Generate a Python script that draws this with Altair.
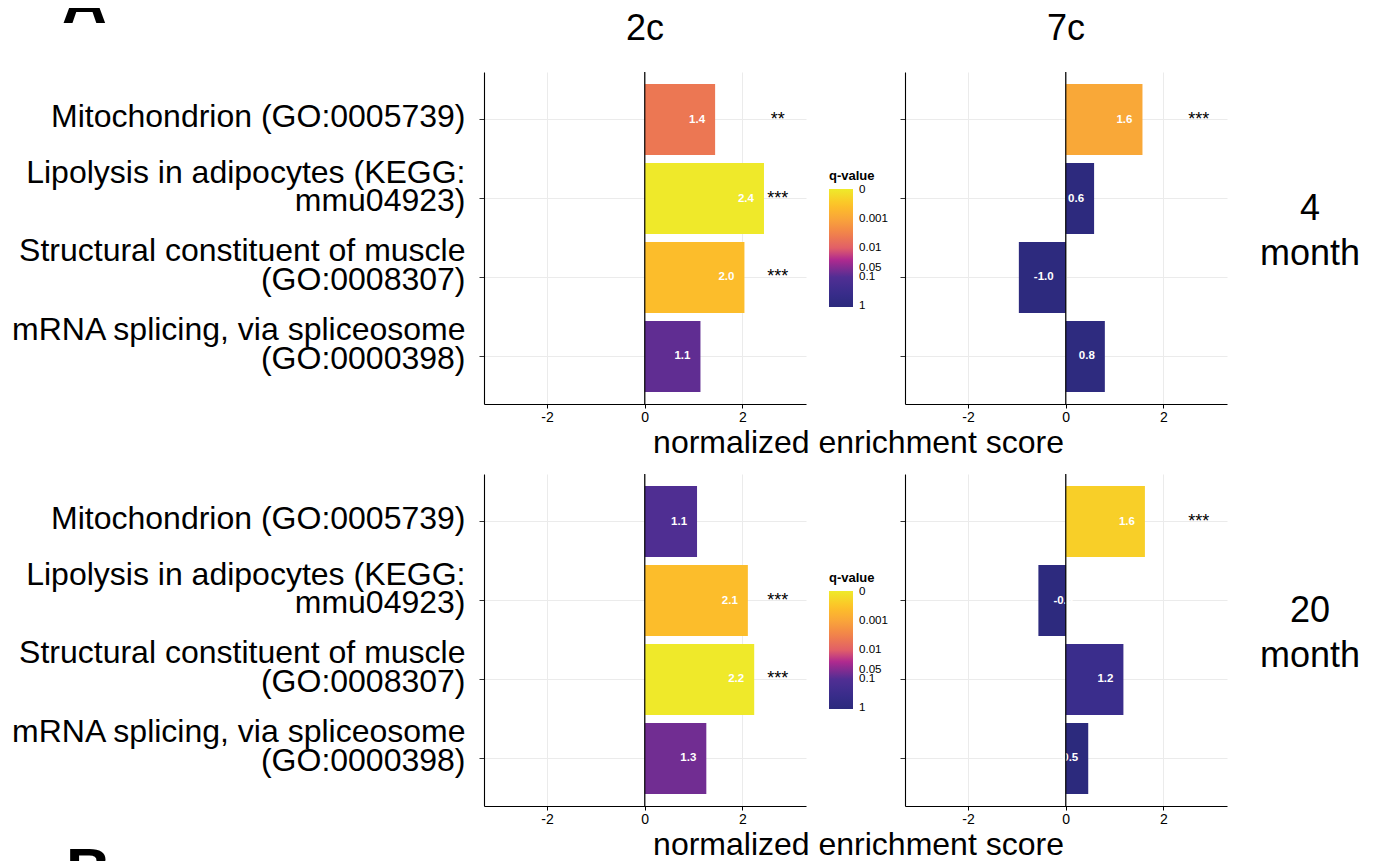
import altair as alt
import numpy as np
import pandas as pd

# ---------------- data ----------------
terms = [
    "Mitochondrion (GO:0005739)",
    "Lipolysis in adipocytes (KEGG:\nmmu04923)",
    "Structural constituent of muscle\n(GO:0008307)",
    "mRNA splicing, via spliceosome\n(GO:0000398)",
]

nes_2c_4m = [1.44, 2.44, 2.04, 1.14]
q_2c_4m = [0.0045, 0.0001, 0.0004, 0.08]
stars_2c_4m = ["**", "***", "***", ""]

nes_7c_4m = [1.57, 0.58, -0.96, 0.80]
q_7c_4m = [0.0009, 0.9, 0.88, 0.85]
stars_7c_4m = ["***", "", "", ""]

nes_2c_20m = [1.07, 2.11, 2.24, 1.26]
q_2c_20m = [0.11, 0.0004, 0.0001, 0.063]
stars_2c_20m = ["", "***", "***", ""]

nes_7c_20m = [1.62, -0.56, 1.18, 0.46]
q_7c_20m = [0.00022, 0.9, 0.32, 0.95]
stars_7c_20m = ["***", "", "", ""]

col_titles = ["2c", "7c"]
row_titles = ["4\nmonth", "20\nmonth"]
panel_letters = ["A", "B"]
x_title = "normalized enrichment score"
legend_title = "q-value"
x_ticks = [-2, 0, 2]
zero_line = [0]
star_x = 2.72
# -log10(q) positions of the legend ticks for q = 1, 0.1, 0.05, 0.01, 0.001, 0
legend_values = [0, 1, 1.30103, 2, 3, 4]

# ---------------- style ----------------
FONT = "Liberation Sans"
W, H = 322, 332
XDOM = [-3.29, 3.30]
GRID = "#EBEBEB"
color_stops = [-0.02, 0.5, 1.0, 1.6, 2.0, 2.5, 3.0, 3.5, 4.02]
color_range = ["#2B2A7C", "#3A2D8C", "#512E93", "#B02A8F", "#E15F68",
               "#F1824A", "#F9A53A", "#FDC327", "#EEEA2A"]


def panel(nes, q, stars, left):
    df = pd.DataFrame({"term": terms, "NES": nes, "q": q, "stars": stars})
    df["score"] = -np.log10(np.maximum(df["q"], 1e-4))
    base = alt.Chart(df)

    yaxis = alt.Axis(
        title=None, labels=left, labelExpr="split(datum.label, '\\n')",
        labelFontSize=32, labelFont=FONT, labelColor="black", labelLimit=700,
        labelPadding=14, labelLineHeight=28.8,
        labelOffset={"condition": {"test": "indexof(datum.label, '\\n') >= 0", "value": -26},
                     "value": -3},
        ticks=True, tickSize=5,
        tickColor="#333333", domain=True, domainColor="black", domainWidth=1.1,
        grid=True, gridColor=GRID, gridWidth=1, bandPosition=0.5,
    )
    common_x = dict(
        values=x_ticks, labelExpr="'' + datum.value", labelFontSize=14,
        labelColor="black", labelFont=FONT, labelPadding=2, tickSize=4,
        tickColor="black", domainColor="black", domainWidth=1.1,
        grid=True, gridColor=GRID, gridWidth=1,
    )
    if left:
        xaxis = alt.Axis(
            title=x_title, titleFontSize=32, titleFont=FONT, titleFontWeight="normal",
            titleColor="black", titleX=374, titleY=48, titleAlign="center",
            titleBaseline="alphabetic", **common_x,
        )
    else:
        xaxis = alt.Axis(title=None, **common_x)
    xs = alt.Scale(domain=XDOM, nice=False, zero=False)
    ys = alt.Scale(paddingInner=0.1, paddingOuter=0.152)
    yenc = alt.Y("term:N", sort=terms, scale=ys, axis=yaxis)
    xenc = alt.X("NES:Q", scale=xs, axis=xaxis)

    if left:
        legend = alt.Legend(
            title=legend_title, orient="none", legendX=345, legendY=98,
            direction="vertical", gradientLength=118, gradientThickness=24,
            values=legend_values,
            labelExpr="datum.value >= 4 ? '0' : format(pow(10, -datum.value), '.1~g')",
            labelOverlap=False, labelFontSize=11.6, labelColor="black", labelFont=FONT,
            labelBaseline="middle", labelOffset=6, titleFontSize=13, titleFontWeight="bold",
            titleColor="black", titleFont=FONT, titlePadding=6, padding=0,
            gradientStrokeWidth=0,
        )
    else:
        legend = None
    cenc = alt.Color(
        "score:Q",
        scale=alt.Scale(domain=color_stops, range=color_range, interpolate="rgb", clamp=True),
        legend=legend,
    )

    bars = base.mark_bar().encode(x=xenc, y=yenc, color=cenc)
    lab_expr = "replace(format(datum.NES, '.1f'), '\u2212', '-')"
    pos = base.transform_filter("datum.NES > 0").transform_calculate(lab=lab_expr).mark_text(
        align="right", baseline="middle", dx=-10, color="white", fontWeight="bold",
        fontSize=11.5, font=FONT,
    ).encode(x=xenc, y=yenc, text="lab:N")
    neg = base.transform_filter("datum.NES < 0").transform_calculate(lab=lab_expr).mark_text(
        align="left", baseline="middle", dx=15, color="white", fontWeight="bold",
        fontSize=11.5, font=FONT,
    ).encode(x=xenc, y=yenc, text="lab:N")
    st = base.mark_text(
        align="center", baseline="middle", color="black", fontSize=18, font=FONT,
    ).encode(x=alt.datum(star_x, scale=xs), y=yenc, text="stars:N")
    rule = alt.Chart(pd.DataFrame({"NES": zero_line})).mark_rule(
        color="black", strokeWidth=1.2
    ).encode(x=xenc)
    return alt.layer(bars, pos, neg, st, rule).properties(width=W, height=H)


def blank(w, h):
    return alt.Chart(pd.DataFrame({"t": [""]})).mark_text().encode(
        text="t:N").properties(width=w, height=h)


def text_cell(txt, **kw):
    return alt.Chart(pd.DataFrame({"t": [txt]})).mark_text(font=FONT, color="black", **kw)


hdrA = text_cell(panel_letters[0], fontSize=62, fontWeight="bold", align="left",
                 baseline="alphabetic", clip=True).encode(
    text="t:N", x=alt.value(54), y=alt.value(15)).properties(width=377, height=64)
hdr2c = text_cell(col_titles[0], fontSize=36, align="center",
                  baseline="alphabetic").encode(text="t:N", y=alt.value(32)).properties(width=322, height=64)
hdr7c = text_cell(col_titles[1], fontSize=36, align="center",
                  baseline="alphabetic").encode(text="t:N", y=alt.value(32)).properties(width=322, height=64)


def row_label(txt):
    return text_cell(txt, fontSize=36, align="center", baseline="middle",
                     lineBreak="\n", lineHeight=45, dy=-29).encode(
        text="t:N", x=alt.value(-16)).properties(width=1, height=H)


footB = text_cell(panel_letters[1], fontSize=62, fontWeight="bold", align="left",
                  baseline="alphabetic").encode(
    text="t:N", x=alt.value(58), y=alt.value(85)).properties(width=377, height=55)

cells = [
    hdrA, hdr2c, hdr7c, blank(1, 64),
    blank(1, 1), panel(nes_2c_4m, q_2c_4m, stars_2c_4m, True),
    panel(nes_7c_4m, q_7c_4m, stars_7c_4m, False), row_label(row_titles[0]),
    blank(1, 70), blank(1, 1), blank(1, 1), blank(1, 1),
    blank(1, 1), panel(nes_2c_20m, q_2c_20m, stars_2c_20m, True),
    panel(nes_7c_20m, q_7c_20m, stars_7c_20m, False), row_label(row_titles[1]),
    footB, blank(1, 1), blank(1, 1), blank(1, 1),
]

chart = alt.concat(
    *cells, columns=4, spacing=alt.RowColnumber(row=0, column=99), bounds="flush"
).resolve_scale(color="independent").configure_view(strokeWidth=0).properties(
    padding={"left": 0, "top": 0, "right": 5, "bottom": 0}, background="white"
)

chart.save("out.html", embed_options={"renderer": "svg", "actions": False})
